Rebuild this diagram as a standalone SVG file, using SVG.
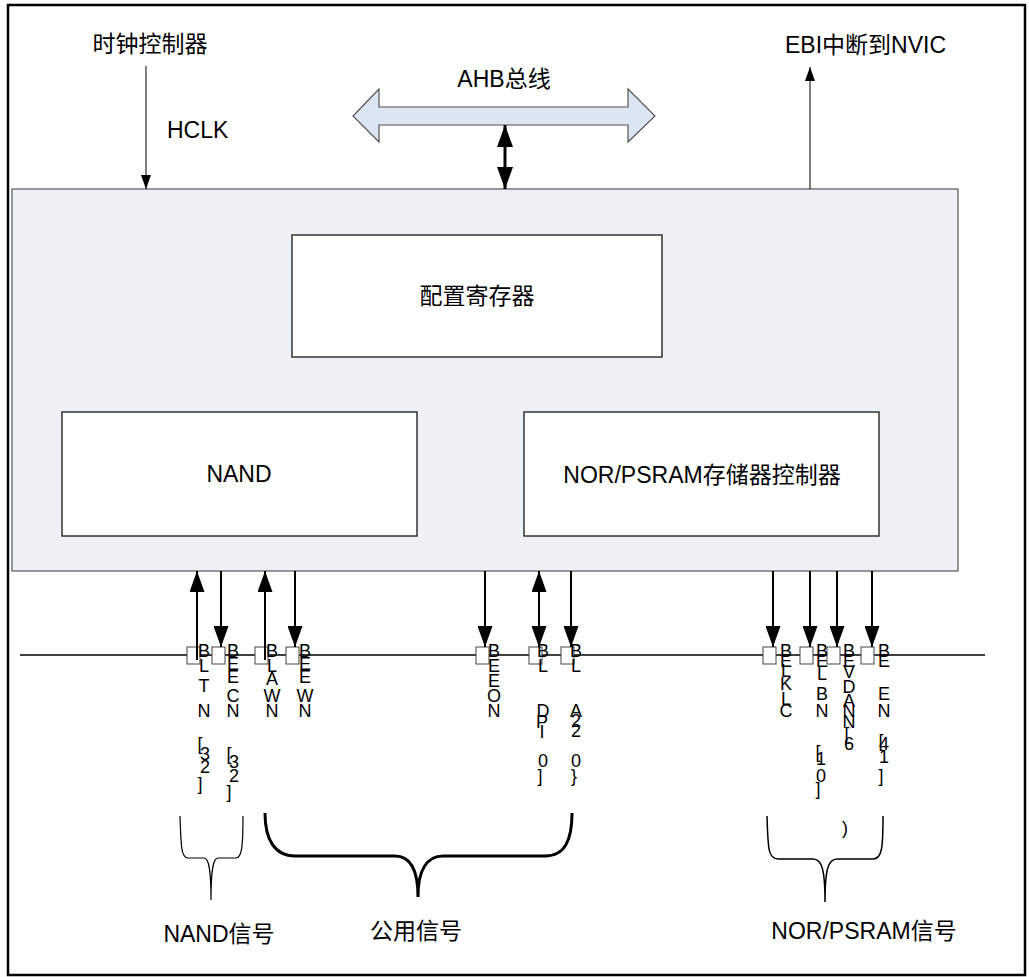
<svg xmlns="http://www.w3.org/2000/svg" width="1029" height="977" viewBox="0 0 1029 977">
<style>
.t{font-family:"Liberation Sans","Noto Sans CJK SC",sans-serif;font-size:23px;fill:#000}
.s{font-family:"Liberation Sans Narrow","Liberation Sans",sans-serif;font-size:18px;fill:#000;text-anchor:middle}
.box{fill:#fff;stroke:#333;stroke-width:1.5}
.pin{fill:#fff;stroke:#444;stroke-width:1}
.sig{stroke:#000;stroke-width:2;fill:none;marker-end:url(#ah)}
.brace{fill:none;stroke:#000}
</style>
<defs>
<marker id="ah" markerUnits="userSpaceOnUse" markerWidth="21" markerHeight="15" refX="21" refY="7.5" orient="auto-start-reverse"><path d="M0,0 L21,7.5 L0,15 z" fill="#000"/></marker>
<marker id="ahs" markerUnits="userSpaceOnUse" markerWidth="14" markerHeight="10" refX="14" refY="5" orient="auto-start-reverse"><path d="M0,0 L14,5 L0,10 z" fill="#000"/></marker>
<marker id="ahb" markerUnits="userSpaceOnUse" markerWidth="22" markerHeight="16" refX="22" refY="8" orient="auto-start-reverse"><path d="M0,0 L22,8 L0,16 z" fill="#000"/></marker>
</defs>
<rect x="8" y="5" width="1017" height="970" fill="#fff" stroke="#000" stroke-width="2.5"/>
<g id="ebi">
<rect x="12" y="189" width="946" height="382" fill="#EDF0F5" stroke="#555" stroke-width="1.2"/>
</g>
<g id="config"><rect class="box" x="292" y="235" width="370" height="122"/><text class="t" x="477" y="304" text-anchor="middle">配置寄存器</text></g>
<g id="nand"><rect class="box" x="62" y="412" width="355" height="124"/><text class="t" x="239" y="482" text-anchor="middle">NAND</text></g>
<g id="nor"><rect class="box" x="524" y="412" width="355" height="124"/><text class="t" x="702" y="483" text-anchor="middle">NOR/PSRAM存储器控制器</text></g>
<g id="ahb"><polygon points="353,116 379,89 379,107 628,107 628,89 655,116 628,142 628,125 379,125 379,142" fill="#DCE6F2" stroke="#555" stroke-width="1.2"/><text class="t" x="504" y="87" text-anchor="middle">AHB总线</text></g>
<g id="clock"><text class="t" x="150" y="52" text-anchor="middle">时钟控制器</text><text class="t" x="167" y="138">HCLK</text></g>
<g id="nvic"><text class="t" x="785" y="53">EBI中断到NVIC</text></g>
<g id="bus"><line x1="20" y1="655" x2="985" y2="655" stroke="#000" stroke-width="1.5"/>
<rect class="pin" x="187" y="647" width="13" height="17"/><rect class="pin" x="212" y="647" width="13" height="17"/><rect class="pin" x="255" y="647" width="13" height="17"/><rect class="pin" x="286" y="647" width="13" height="17"/>
<rect class="pin" x="476" y="647" width="13" height="17"/><rect class="pin" x="529" y="647" width="13" height="17"/><rect class="pin" x="561" y="647" width="13" height="17"/>
<rect class="pin" x="763" y="647" width="13" height="17"/><rect class="pin" x="800" y="647" width="13" height="17"/><rect class="pin" x="827" y="647" width="13" height="17"/><rect class="pin" x="861" y="647" width="13" height="17"/>
</g>
<g id="connectors">
<line x1="146" y1="66" x2="146" y2="189" stroke="#000" stroke-width="1" marker-end="url(#ahs)"/>
<line x1="810" y1="189" x2="810" y2="67" stroke="#000" stroke-width="1" marker-end="url(#ahs)"/>
<line x1="505" y1="125" x2="505" y2="189" stroke="#000" stroke-width="3" marker-start="url(#ahb)" marker-end="url(#ahb)"/>
<line class="sig" x1="197" y1="660" x2="197" y2="571"/>
<line class="sig" x1="221" y1="571" x2="221" y2="647"/>
<line class="sig" x1="265" y1="660" x2="265" y2="571"/>
<line class="sig" x1="295" y1="571" x2="295" y2="647"/>
<line class="sig" x1="485" y1="571" x2="485" y2="647"/>
<line class="sig" x1="539" y1="571" x2="539" y2="647" marker-start="url(#ah)"/>
<line class="sig" x1="571" y1="571" x2="571" y2="647"/>
<line class="sig" x1="773" y1="571" x2="773" y2="647"/>
<line class="sig" x1="810" y1="571" x2="810" y2="647"/>
<line class="sig" x1="837" y1="571" x2="837" y2="647"/>
<line class="sig" x1="872" y1="571" x2="872" y2="647"/>
</g>
<g id="signal-labels">
<text class="s"><tspan x="204" y="657">B</tspan><tspan x="204" y="672">L</tspan><tspan x="204" y="692">T</tspan><tspan x="204" y="717">N</tspan><tspan x="200" y="750">[</tspan><tspan x="205" y="760">3</tspan><tspan x="205" y="773">2</tspan><tspan x="200" y="790">]</tspan></text>
<text class="s"><tspan x="233" y="657">B</tspan><tspan x="233" y="670">E</tspan><tspan x="233" y="683">E</tspan><tspan x="233" y="702">C</tspan><tspan x="233" y="717">N</tspan><tspan x="229" y="760">[</tspan><tspan x="234" y="768">3</tspan><tspan x="234" y="782">2</tspan><tspan x="229" y="798">]</tspan></text>
<text class="s"><tspan x="272" y="657">B</tspan><tspan x="272" y="672">L</tspan><tspan x="272" y="685">A</tspan><tspan x="272" y="702">W</tspan><tspan x="272" y="717">N</tspan></text>
<text class="s"><tspan x="305" y="657">B</tspan><tspan x="305" y="670">E</tspan><tspan x="305" y="683">E</tspan><tspan x="305" y="702">W</tspan><tspan x="305" y="717">N</tspan></text>
<text class="s"><tspan x="494" y="657">B</tspan><tspan x="494" y="672">E</tspan><tspan x="494" y="687">E</tspan><tspan x="494" y="702">O</tspan><tspan x="494" y="717">N</tspan></text>
<text class="s"><tspan x="543" y="657">B</tspan><tspan x="543" y="672">L</tspan><tspan x="543" y="717">D</tspan><tspan x="542" y="728">P</tspan><tspan x="542" y="738">I</tspan><tspan x="543" y="767">0</tspan><tspan x="540" y="782">]</tspan></text>
<text class="s"><tspan x="576" y="657">B</tspan><tspan x="576" y="672">L</tspan><tspan x="576" y="717">A</tspan><tspan x="576" y="727">2</tspan><tspan x="576" y="737">2</tspan><tspan x="576" y="767">0</tspan><tspan x="574" y="782">}</tspan></text>
<text class="s"><tspan x="786" y="657">B</tspan><tspan x="786" y="667">E</tspan><tspan x="786" y="677">L</tspan><tspan x="786" y="690">K</tspan><tspan x="786" y="705">L</tspan><tspan x="786" y="717">C</tspan></text>
<text class="s"><tspan x="822" y="657">B</tspan><tspan x="822" y="667">E</tspan><tspan x="822" y="680">L</tspan><tspan x="822" y="700">B</tspan><tspan x="822" y="717">N</tspan><tspan x="818" y="758">[</tspan><tspan x="821" y="765">1</tspan><tspan x="821" y="782">0</tspan><tspan x="818" y="795">]</tspan></text>
<text class="s"><tspan x="849" y="657">B</tspan><tspan x="849" y="667">E</tspan><tspan x="849" y="678">V</tspan><tspan x="849" y="693">D</tspan><tspan x="849" y="707">A</tspan><tspan x="849" y="717">N</tspan><tspan x="849" y="728">N</tspan><tspan x="847" y="740">[</tspan><tspan x="849" y="750">6</tspan><tspan x="845" y="834">)</tspan></text>
<text class="s"><tspan x="884" y="657">B</tspan><tspan x="884" y="667">E</tspan><tspan x="884" y="700">E</tspan><tspan x="884" y="717">N</tspan><tspan x="881" y="747">[</tspan><tspan x="884" y="750">4</tspan><tspan x="884" y="763">1</tspan><tspan x="881" y="782">]</tspan></text>
</g>
<g id="groups">
<path class="brace" stroke-width="1.2" d="M180,816 C181,845 181,858 188,858 L204,858 C209,858 211,870 211,900 C211,870 213,858 218,858 L236,858 C242,858 243,845 243,816"/>
<path class="brace" stroke-width="3" d="M265,813 C265,840 275,856 295,856 L395,856 C410,856 418,870 418,897 C418,870 427,856 443,856 L545,856 C565,856 572,840 572,813"/>
<path class="brace" stroke-width="1.5" d="M767,816 C768,848 768,859 778,859 L813,859 C822,859 825,870 825,902 C825,870 828,859 837,859 L873,859 C882,859 883,848 883,816"/>
<text class="t" x="219" y="942" text-anchor="middle">NAND信号</text>
<text class="t" x="416" y="939" text-anchor="middle">公用信号</text>
<text class="t" x="864" y="939" text-anchor="middle">NOR/PSRAM信号</text>
</g>
</svg>
